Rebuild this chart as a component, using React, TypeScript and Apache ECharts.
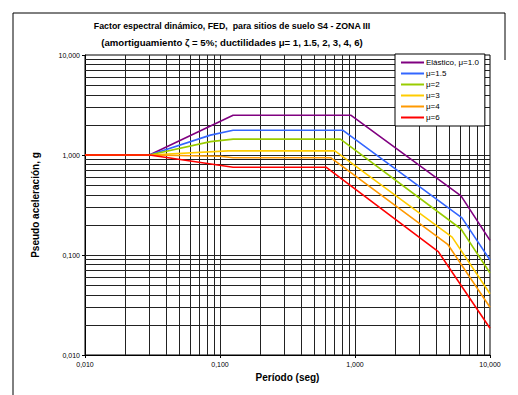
import React, { useEffect, useRef } from "react";
import * as echarts from "echarts";

const titleLine1 = "Factor espectral dinámico, FED,  para sitios de suelo S4 - ZONA III";
const titleLine2 = "(amortiguamiento ζ = 5%; ductilidades μ= 1, 1.5, 2, 3, 4, 6)";
const xAxisTitle = "Período (seg)";
const yAxisTitle = "Pseudo aceleración, g";

const seriesNames = ["Elástico, μ=1.0", "μ=1.5", "μ=2", "μ=3", "μ=4", "μ=6"];
const seriesColors = ["#800080", "#3366FF", "#99CC00", "#FFCC00", "#FF9900", "#FF0000"];

const periodsMu1 = [0.01, 0.03, 0.125, 0.93, 6.1, 10];
const accelMu1 = [1, 1, 2.5, 2.5, 0.39, 0.14];
const periodsMu15 = [0.01, 0.03, 0.085, 0.125, 0.81, 6.2, 10];
const accelMu15 = [1, 1, 1.58, 1.77, 1.77, 0.235, 0.089];
const periodsMu2 = [0.01, 0.03, 0.085, 0.125, 0.78, 6.1, 10];
const accelMu2 = [1, 1, 1.36, 1.44, 1.44, 0.182, 0.066];
const periodsMu3 = [0.01, 0.03, 0.115, 0.71, 5.24, 10];
const accelMu3 = [1, 1, 1.1, 1.1, 0.151, 0.041];
const periodsMu4 = [0.01, 0.03, 0.1, 0.125, 0.66, 4.86, 10];
const accelMu4 = [1, 1, 0.97, 0.94, 0.94, 0.128, 0.03];
const periodsMu6 = [0.01, 0.03, 0.125, 0.61, 4.14, 10];
const accelMu6 = [1, 1, 0.755, 0.755, 0.108, 0.0185];

const allPeriods = [periodsMu1, periodsMu15, periodsMu2, periodsMu3, periodsMu4, periodsMu6];
const allAccel = [accelMu1, accelMu15, accelMu2, accelMu3, accelMu4, accelMu6];

const decades = [0.01, 0.1, 1];
const multipliers = [1, 2, 3, 4, 5, 6, 7, 8, 9];

const fmt = (v: number) => v.toFixed(3).replace(".", ",");

export default function App() {
  const ref = useRef<HTMLDivElement>(null);
  useEffect(() => {
    if (!ref.current) return;
    const chart = echarts.init(ref.current, undefined, { renderer: "svg" });

    const gridVals: number[] = [];
    decades.forEach((d) =>
      multipliers.forEach((m) => {
        const v = parseFloat((d * m).toPrecision(3));
        if (v > 0.01) gridVals.push(v);
      })
    );

    const gridMarks = [
      ...gridVals.map((v) => ({ xAxis: v })),
      ...gridVals.map((v) => ({ yAxis: v })),
    ];

    const dataSeries = seriesNames.map((name, i) => ({
      name,
      type: "line",
      data: allPeriods[i].map((t, j) => [t, allAccel[i][j]]),
      showSymbol: false,
      symbol: "none",
      lineStyle: { color: seriesColors[i], width: 1.6 },
      itemStyle: { color: seriesColors[i] },
      z: 5,
    }));

    chart.setOption({
      animation: false,
      backgroundColor: "#fff",
      textStyle: { fontFamily: "Liberation Sans, Arial, sans-serif" },
      grid: {
        left: 85,
        right: 28,
        top: 55,
        bottom: 40,
        show: true,
        borderColor: "#000",
        borderWidth: 1,
      },
      legend: {
        data: seriesNames,
        orient: "vertical",
        left: 395,
        top: 54,
        width: 95,
        padding: [4, 6, 4, 6],
        itemGap: 2,
        itemWidth: 23,
        itemHeight: 2,
        icon: "rect",
        backgroundColor: "#fff",
        borderColor: "#000",
        borderWidth: 1,
        textStyle: { fontSize: 8, color: "#000", padding: [0, 0, 0, -3], lineHeight: 9 },
        z: 10,
      },
      xAxis: {
        type: "log",
        logBase: 10,
        min: 0.01,
        max: 10,
        name: xAxisTitle,
        nameLocation: "middle",
        nameGap: 17,
        nameTextStyle: { fontSize: 10, fontWeight: "bold", color: "#000" },
        axisLine: { show: true, lineStyle: { color: "#000", width: 1 } },
        axisTick: { show: true, length: 3, lineStyle: { color: "#000" } },
        axisLabel: { fontSize: 7, color: "#000", margin: 6, formatter: fmt },
        splitLine: { show: false },
        minorTick: { show: false },
      },
      yAxis: {
        type: "log",
        logBase: 10,
        min: 0.01,
        max: 10,
        name: yAxisTitle,
        nameLocation: "middle",
        nameGap: 45,
        nameRotate: 90,
        nameTextStyle: { fontSize: 10, fontWeight: "bold", color: "#000" },
        axisLine: { show: true, lineStyle: { color: "#000", width: 1 } },
        axisTick: { show: true, length: 3, lineStyle: { color: "#000" } },
        axisLabel: { fontSize: 7, color: "#000", margin: 5, formatter: fmt },
        splitLine: { show: false },
        minorTick: { show: false },
      },
      graphic: [
        {
          type: "text",
          x: 232,
          y: 26,
          style: {
            text: titleLine1,
            fontSize: 8.8,
            fontWeight: "bold",
            fontFamily: "Liberation Sans, Arial, sans-serif",
            fill: "#000",
            textAlign: "center",
            textVerticalAlign: "middle",
          },
        },
        {
          type: "text",
          x: 232,
          y: 42,
          style: {
            text: titleLine2,
            fontSize: 9.6,
            fontWeight: "bold",
            fontFamily: "Liberation Sans, Arial, sans-serif",
            fill: "#000",
            textAlign: "center",
            textVerticalAlign: "middle",
          },
        },
        {
          type: "polyline",
          shape: { points: [[13, 395], [13, 13], [505, 13], [505, 60]] },
          style: { stroke: "#000", lineWidth: 1, fill: "none" },
          silent: true,
        },
      ],
      series: [
        {
          name: "grid",
          type: "line",
          data: [],
          silent: true,
          z: 1,
          markLine: {
            silent: true,
            symbol: ["none", "none"],
            label: { show: false },
            lineStyle: { color: "#222", width: 1, type: "solid" },
            emphasis: { disabled: true },
            data: gridMarks,
          },
        },
        ...dataSeries,
      ],
    });
    return () => chart.dispose();
  }, []);
  return <div ref={ref} style={{ width: 518, height: 395, position: "absolute", left: 0, top: 0 }} />;
}
